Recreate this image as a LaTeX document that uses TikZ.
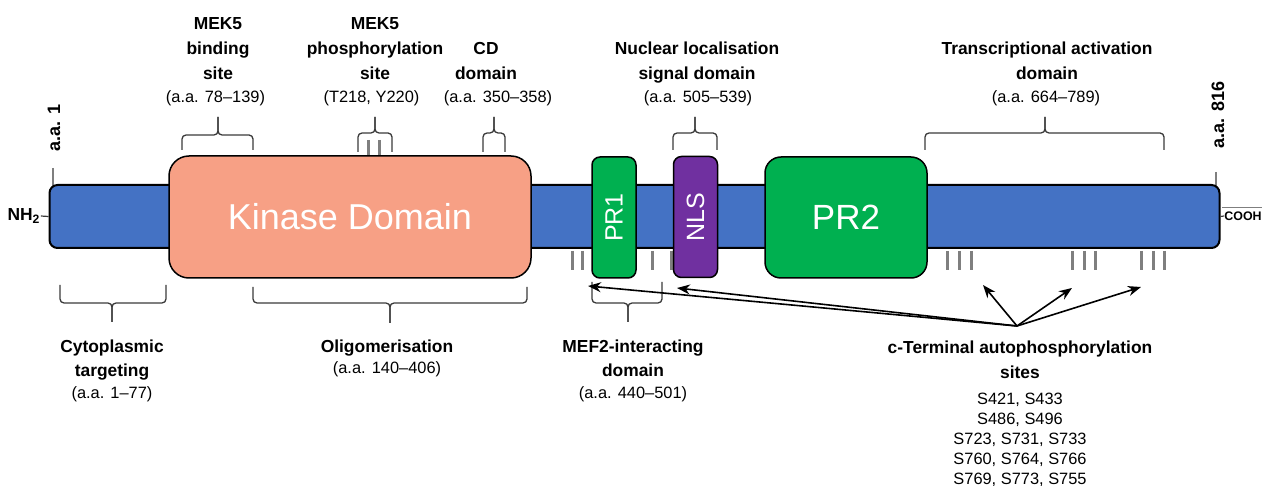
\documentclass[tikz,border=0pt]{standalone}
\usepackage{fontspec}
\setmainfont{Liberation Sans}
\usetikzlibrary{arrows.meta}

\definecolor{barblue}{HTML}{4472C4}
\definecolor{kinasecol}{HTML}{F7A085}
\definecolor{prgreen}{HTML}{00B050}
\definecolor{nlspurple}{HTML}{7030A0}
\definecolor{sitegray}{HTML}{7F7F7F}
\definecolor{bracegray}{HTML}{3A3A3A}

% one brace made of two halves that meet in a pointed tip
\newcommand{\bracepair}[6]{%
  \draw[bracestyle] (#1,#4) |- (#3,#5) -- (#3,#6);
  \draw[bracestyle] (#2,#4) |- (#3,#5) -- (#3,#6);}

\begin{document}
\begin{tikzpicture}[x=0.5pt,y=-0.5pt,
  titlelabel/.style={font=\fontsize{8.7}{12.5}\selectfont\bfseries, align=center, anchor=base, inner sep=0pt},
  spanlabel/.style={font=\fontsize{8.2}{10}\selectfont, align=center, anchor=base, inner sep=0pt},
  endlabel/.style={font=\fontsize{9}{10}\selectfont\bfseries, inner sep=0pt, rotate=90},
  domainbox/.style={draw=black, line width=0.75pt, inner sep=0pt, text=white},
  site/.style={draw=sitegray, line width=1.5pt},
  bracestyle/.style={draw=bracegray, line width=0.65pt, rounded corners=2pt},
  arrowline/.style={draw=black, line width=0.8pt, -{Stealth[length=6.5pt,width=5pt]}},
  endtick/.style={draw=sitegray, line width=1.2pt}]

\useasboundingbox (0,0) rectangle (1264,486);

% phosphorylation sites
\foreach \x in {368,379} \draw[site] (\x,140) -- (\x,156);
\foreach \x in {572,582,652,671,947,959,971,1072,1084,1095,1141,1153,1164}
  \draw[site] (\x,251) -- (\x,270);

% terminal ticks
\draw[endtick] (53,168) -- (53,186);
\draw[endtick] (1216,172) -- (1216,186);

% protein backbone
\node[draw=black, line width=1pt, fill=barblue, rounded corners=4pt,
      minimum width=585pt, minimum height=31.5pt, inner sep=0pt] (bar) at (634.5,216.5) {};

% domains
\node[domainbox, fill=kinasecol, rounded corners=10pt, minimum width=181pt, minimum height=61pt,
      font=\fontsize{18}{20}\selectfont] (kinase) at (350,217) {Kinase Domain};
\node[domainbox, fill=prgreen, rounded corners=4pt, minimum width=22pt, minimum height=60.5pt,
      font=\fontsize{12.5}{14}\selectfont] (pr1) at (614,217.5) {\rotatebox{90}{PR1}};
\node[domainbox, fill=nlspurple, rounded corners=4pt, minimum width=22pt, minimum height=60.5pt,
      font=\fontsize{12.5}{14}\selectfont] (nls) at (695.5,217) {\rotatebox{90}{NLS}};
\node[domainbox, fill=prgreen, rounded corners=8pt, minimum width=81pt, minimum height=60.5pt,
      font=\fontsize{17.5}{20}\selectfont] (pr2) at (846,217.5) {PR2};

% termini
\node[font=\fontsize{8.7}{10}\selectfont\bfseries, inner sep=0pt] (nterm) at (24,216) {NH\textsubscript{2}};
\node[font=\fontsize{6.2}{8}\selectfont\bfseries, inner sep=0pt] (cterm) at (1243,216) {COOH};
\draw[line width=0.6pt, bracegray] (nterm.east) -- (bar.west);
\draw[line width=0.6pt, bracegray] (bar.east) -- (cterm.west);
\draw[line width=0.3pt, sitegray] (1222,207) -- (1262,207);
\node[endlabel] (aa1) at (54,128) {a.a. 1};
\node[endlabel] (aa816) at (1218,115) {a.a. 816};

% braces above the backbone
\bracepair{182}{253}{218}{150}{135}{117}
\bracepair{358}{392}{375}{152}{133}{117}
\bracepair{483}{505}{494}{152}{133}{117}
\bracepair{673}{717}{695}{150}{133}{117}
\bracepair{925}{1164}{1045}{150}{133}{117}

% braces below the backbone
\bracepair{60}{166}{112}{285}{303}{322}
\bracepair{253}{527}{390}{287}{303}{323}
\bracepair{592}{662}{628}{282}{303}{322}

% labels above (anchored at the baseline of their last line)
\node[titlelabel] (mekbind) at (218,80) {MEK5\\binding\\site};
\node[spanlabel] (mekbindr) at (215.5,103) {(a.a. 78–139)};
\node[titlelabel] (mekphos) at (375,80) {MEK5\\phosphorylation\\site};
\node[spanlabel] (mekphosr) at (371.5,103) {(T218, Y220)};
\node[titlelabel] (cd) at (486,80) {CD\\domain};
\node[spanlabel] (cdr) at (498,103) {(a.a. 350–358)};
\node[titlelabel] (nucl) at (697,80) {Nuclear localisation\\signal domain};
\node[spanlabel] (nuclr) at (698,103) {(a.a. 505–539)};
\node[titlelabel] (trans) at (1047,80) {Transcriptional activation\\domain};
\node[spanlabel] (transr) at (1046,103) {(a.a. 664–789)};

% labels below
\node[titlelabel] (cyto) at (112,377) {Cytoplasmic\\targeting};
\node[spanlabel] (cytor) at (112,398) {(a.a. 1–77)};
\node[titlelabel] (oligo) at (387,352) {Oligomerisation};
\node[spanlabel] (oligor) at (387,373) {(a.a. 140–406)};
\node[titlelabel] (mef) at (633,377) {MEF2-interacting\\domain};
\node[spanlabel] (mefr) at (633,398) {(a.a. 440–501)};
\node[titlelabel] (cterminal) at (1020,379) {c-Terminal autophosphorylation\\sites};
\node[spanlabel] (sitelist) at (1020,484) {S421, S433\\S486, S496\\S723, S731, S733\\S760, S764, S766\\S769, S773, S755};

% autophosphorylation arrows
\coordinate (hub) at (1017,326);
\coordinate (tpr1) at (588,286);
\coordinate (tnls) at (677,288);
\coordinate (ta) at (983,285);
\coordinate (tb) at (1072,288);
\coordinate (tc) at (1141,287);
\draw[arrowline] (hub) -- (tpr1);
\draw[arrowline] (hub) -- (tnls);
\draw[arrowline] (hub) -- (ta);
\draw[arrowline] (hub) -- (tb);
\draw[arrowline] (hub) -- (tc);
\end{tikzpicture}
\end{document}
